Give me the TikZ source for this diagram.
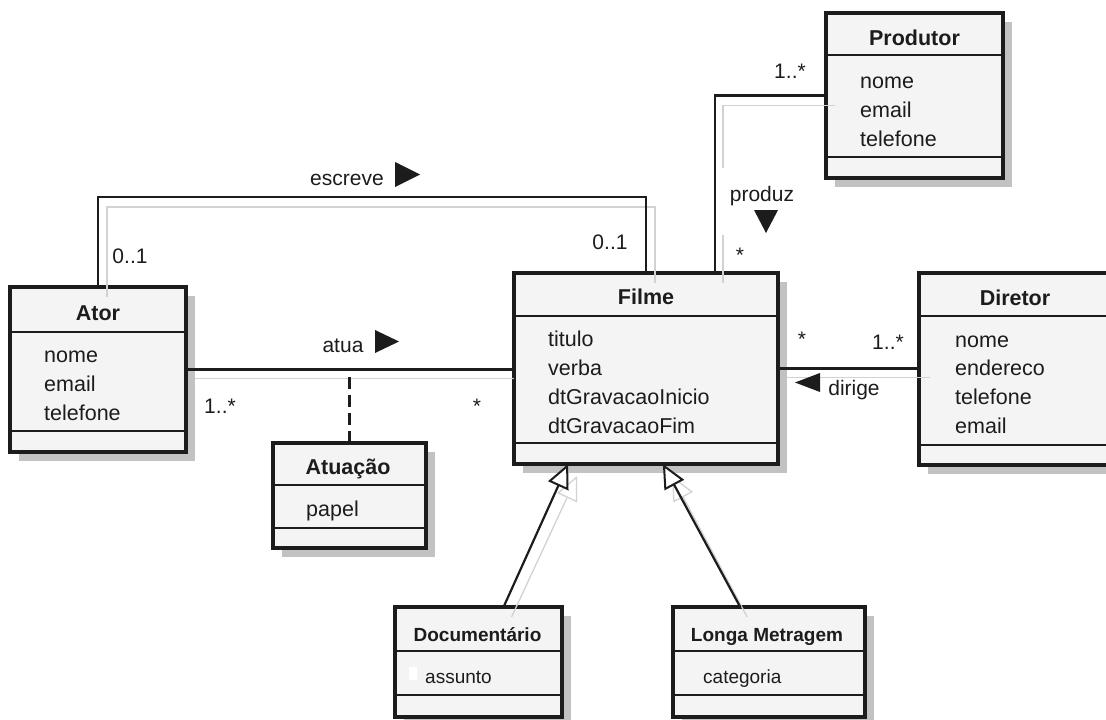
\documentclass[tikz,border=0pt]{standalone}
\usepackage{fontspec}
\setmainfont{Liberation Sans}
\usetikzlibrary{arrows.meta,calc}
\definecolor{boxfill}{HTML}{F4F4F4}
\definecolor{shadowgray}{HTML}{C2C2C2}
\definecolor{ink}{HTML}{1C1C1C}
\definecolor{ghostc}{HTML}{D2D2D2}
\newcommand\umlclass[7]{%
  \fill[shadowgray] (#2+9,#3+9) rectangle (#4+9,#5+9);
  \node[classbox, minimum width={#4-#2}, minimum height={#5-#3}] (#1) at (#2,#3) {};
  \draw[sepline] (#2,#6) -- (#4,#6) (#2,#7) -- (#4,#7);
}
\begin{document}
\begin{tikzpicture}[x=1pt,y=-1pt,
  classbox/.style={rectangle, draw=ink, line width=3.4pt, fill=boxfill, inner sep=0pt, outer sep=0pt, anchor=north west},
  sepline/.style={ink, line width=2pt},
  conn/.style={ink, line width=2.2pt},
  ghost/.style={ghostc, line width=1.3pt},
  big/.style={font=\fontsize{21.5}{26}\selectfont},
  small/.style={font=\fontsize{19}{24}\selectfont},
  ttl/.style={inner sep=0pt, anchor=base, text=ink, font=\fontsize{21.5}{26}\selectfont\bfseries},
  sttl/.style={inner sep=0pt, anchor=base, text=ink, font=\fontsize{19}{24}\selectfont\bfseries},
  attr/.style={inner sep=0pt, anchor=base west, text=ink, big},
  sattr/.style={inner sep=0pt, anchor=base west, text=ink, small},
  lbl/.style={inner sep=0pt, anchor=base, text=ink, font=\fontsize{21}{26}\selectfont},
  tri/.style={fill=ink},
  gen/.style={conn, -{Triangle[open, length=24pt, width=22pt, fill=white, line width=2pt]}},
  ghostgen/.style={ghost, -{Triangle[open, length=24pt, width=22pt, line width=1.3pt]}}
]
\useasboundingbox (0,0) rectangle (1106,720);
\clip (0,0) rectangle (1106,720);

% classes
\umlclass{produtor}{826}{13}{1003}{178}{55}{157}
\umlclass{ator}{10}{287}{186}{452}{332}{431}
\umlclass{filme}{514}{273}{778}{464}{316}{443}
\umlclass{diretor}{919}{273}{1125}{465}{316}{445}
\umlclass{atuacao}{273}{443}{426}{548}{485}{528}
\umlclass{doc}{395}{607}{562}{717}{651}{695}
\umlclass{longa}{673}{607}{865}{717}{651}{695}

% class texts
\node[ttl] (tProdutor) at (914.5,45) {Produtor};
\node[attr] (aP1) at (860,88) {nome};
\node[attr] (aP2) at (860,117) {email};
\node[attr] (aP3) at (860,146) {telefone};

\node[ttl] (tAtor) at (98,320) {Ator};
\node[attr] (aA1) at (44,362) {nome};
\node[attr] (aA2) at (44,391) {email};
\node[attr] (aA3) at (44,420) {telefone};

\node[ttl] (tFilme) at (646,304) {Filme};
\node[attr] (aF1) at (548,346.5) {titulo};
\node[attr] (aF2) at (548,375) {verba};
\node[attr] (aF3) at (548,404) {dtGravacaoInicio};
\node[attr] (aF4) at (548,433) {dtGravacaoFim};

\node[ttl] (tDiretor) at (1015,305) {Diretor};
\node[attr] (aD1) at (955,347) {nome};
\node[attr] (aD2) at (955,375.5) {endereco};
\node[attr] (aD3) at (955,404) {telefone};
\node[attr] (aD4) at (955,433) {email};

\node[ttl] (tAtuacao) at (348,474) {Atuação};
\node[attr] (aT1) at (306,516) {papel};

\node[sttl] (tDoc) at (477.5,641) {Documentário};
\fill[white] (409,667) rectangle (417,680);
\node[sattr] (aDoc1) at (425,683) {assunto};

\node[sttl] (tLonga) at (767,641) {Longa Metragem};
\node[sattr] (aL1) at (703,683) {categoria};

% helper coordinates
\coordinate (escY) at (0,197);
\coordinate (prodx) at ($(filme.north west)!0.761!(filme.north east)$);
\coordinate (g1s) at ($(doc.north west)!0.65!(doc.north east)$);
\coordinate (g1e) at ($(filme.south west)!0.205!(filme.south east)$);
\coordinate (g2s) at ($(longa.north west)!0.35!(longa.north east)$);
\coordinate (g2e) at ($(filme.south west)!0.564!(filme.south east)$);

% ghost (shadow) lines
\draw[ghost] ($(ator.north)+(9,10)$) -- ($(ator.north |- escY)+(9,10)$) -- ($(filme.north |- escY)+(9,10)$) -- ($(filme.north)+(9,10)$);
\draw[ghost] ($(ator.east)+(9,9)$) -- ($(ator.east -| filme.west)+(0,9)$);
\draw[ghost] ($(produtor.west)+(9,10)$) -- ($(produtor.west -| prodx)+(8,10)$) -- ($(produtor.west -| prodx)+(8,72)$);
\draw[ghost] ($(prodx)+(8,-38)$) -- ($(prodx)+(8,10)$);
\draw[ghost] ($(filme.east)+(9,9)$) -- ($(filme.east -| diretor.west)+(11,9)$);
\draw[ghostgen] ($(g1s)+(8,10)$) -- ($(g1e)+(9,12)$);
\draw[ghostgen] ($(g2s)+(7,10)$) -- ($(g2e)+(9,12)$);

% connectors
\draw[conn] (ator.north) -- (ator.north |- escY) -- (filme.north |- escY) -- (filme.north);
\draw[conn] (ator.east) -- (ator.east -| filme.west);
\draw[conn, line width=2.6pt, dash pattern=on 12pt off 6pt] ($(atuacao.north |- ator.east)+(0,7)$) -- (atuacao.north);
\draw[conn] (produtor.west) -- (produtor.west -| prodx) -- (prodx);
\draw[conn] (filme.east) -- (filme.east -| diretor.west);
\draw[gen] (g1s) -- (g1e);
\draw[gen] (g2s) -- (g2e);

% association labels
\node[lbl] (lEscreve) at (347,185) {escreve};
\fill[tri] (395,162) -- (420,174.5) -- (395,187) -- cycle;
\node[lbl] (mEsc1) at (130,263) {0..1};
\node[lbl] (mEsc2) at (610,249) {0..1};

\node[lbl] (lAtua) at (343,352) {atua};
\fill[tri] (375,330) -- (399,341.5) -- (375,353) -- cycle;
\node[lbl] (mAtua1) at (220,413) {1..*};
\node[lbl] (mAtua2) at (477,413) {*};

\node[lbl] (lProduz) at (762,201) {produz};
\fill[tri] (754,210) -- (778,210) -- (766,233) -- cycle;
\node[lbl] (mProd1) at (790,78) {1..*};
\node[lbl] (mProd2) at (740,262) {*};

\node[lbl] (lDirige) at (854,395) {dirige};
\fill[tri] (820,373) -- (795,382.5) -- (820,392) -- cycle;
\node[lbl] (mDir1) at (802,346) {*};
\node[lbl] (mDir2) at (888,349) {1..*};
\end{tikzpicture}
\end{document}
